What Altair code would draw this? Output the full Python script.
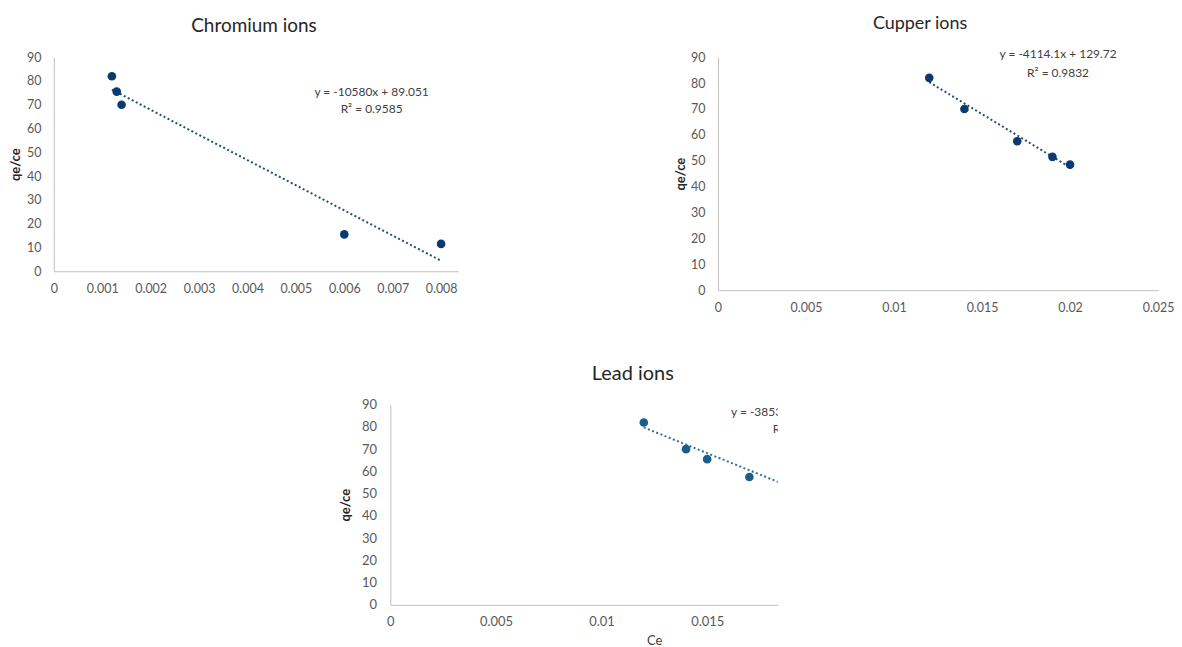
import altair as alt
import pandas as pd

# ---------------- data ----------------
cr_ce = [0.0012, 0.0013, 0.0014, 0.006, 0.008]
cr_q = [82, 75.5, 70, 15.5, 11.5]
cu_ce = [0.012, 0.014, 0.017, 0.019, 0.020]
cu_q = [82, 70, 57.5, 51.5, 48.5]
pb_ce = [0.012, 0.014, 0.015, 0.017]
pb_q = [82, 70, 65.5, 57.5]

# trend lines (from the equations shown on the chart)
cr_slope, cr_icpt = -10580, 89.051
cu_slope, cu_icpt = -4114.1, 129.72
pb_slope, pb_icpt = -3853, 126.0
cr_trend_x = [0.0012, 0.008]
cu_trend_x = [0.012, 0.020]
pb_trend_x = [0.012, 0.020]

cr_eq = ["y = -10580x + 89.051", "R² = 0.9585"]
cu_eq = ["y = -4114.1x + 129.72", "R² = 0.9832"]
pb_eq = ["y = -3853x + 126.0", "R² = 0.96"]

cr_eq_x = [0.006564, 0.006564]
cr_eq_y = [75.5, 68.0]
cu_eq_x = [0.01932, 0.01932]
cu_eq_y = [91.3, 83.8]
pb_eq_x = [0.01613, 0.01811]
pb_eq_y = [86.7, 79.2]

cr_xticks = [0, 0.001, 0.002, 0.003, 0.004, 0.005, 0.006, 0.007, 0.008]
cu_xticks = [0, 0.005, 0.01, 0.015, 0.02, 0.025]
pb_xticks = [0, 0.005, 0.01, 0.015]
yticks = [0, 10, 20, 30, 40, 50, 60, 70, 80, 90]

FONT = "Lato"
AXIS_GREY = "#bfbfbf"
LABEL_GREY = "#595959"


def panel(ce, q, slope, icpt, tx, eq, eqx, eqy, eq_align, xdom, xticks, w, h,
          title, title_dx, title_size, title_off, color, line_color, lab_size,
          ypad, ytitle_x, xtitle=None, clip=False):
    pts = pd.DataFrame({"Ce": ce, "q": q})
    trend = pd.DataFrame({"Ce": tx, "q": [slope * v + icpt for v in tx]})
    eqdf = pd.DataFrame({"Ce": eqx, "q": eqy, "t": eq})

    xax = alt.Axis(values=xticks, format="~g", grid=False, ticks=False, tickSize=0,
                   domainColor=AXIS_GREY, domainWidth=1, labelColor=LABEL_GREY,
                   labelFont=FONT, labelFontSize=lab_size, labelPadding=11,
                   labelFlush=False, labelOverlap=False,
                   title=xtitle if xtitle else "",
                   titleFont=FONT, titleFontSize=13, titleFontWeight="normal",
                   titleColor="#404040", titleBaseline="top", titleY=30,
                   titleX=265, titleAlign="center")
    yax = alt.Axis(values=yticks, grid=False, ticks=False, tickSize=0,
                   domainColor=AXIS_GREY, domainWidth=1, labelColor=LABEL_GREY,
                   labelFont=FONT, labelFontSize=lab_size, labelPadding=ypad,
                   labelFlush=False, labelOverlap=False,
                   title="qe/ce", titleFont=FONT, titleFontSize=13,
                   titleFontWeight="bold", titleColor="#262626",
                   titleX=ytitle_x, titleY=h / 2, titleAlign="center",
                   titleBaseline="middle")
    xs = alt.Scale(domain=xdom, nice=False, zero=False)
    ys = alt.Scale(domain=[0, 90], nice=False)
    X = alt.X("Ce:Q", scale=xs, axis=xax)
    Y = alt.Y("q:Q", scale=ys, axis=yax)

    line = alt.Chart(trend).mark_line(
        color=line_color, strokeWidth=2, strokeDash=[2, 2.5], clip=clip
    ).encode(x=X, y=Y)
    points = alt.Chart(pts).mark_point(
        filled=True, shape="circle", size=75, color=color, opacity=1, clip=clip
    ).encode(x=X, y=Y)
    text = alt.Chart(eqdf).mark_text(
        font=FONT, fontSize=12, color="#404040", align=eq_align, baseline="middle",
        clip=clip
    ).encode(x=X, y=Y, text="t:N")

    return alt.layer(line, points, text).properties(
        width=w, height=h,
        title=alt.TitleParams(title, font=FONT, fontSize=title_size,
                              fontWeight="normal", color="#262626",
                              anchor="middle", dx=title_dx, offset=title_off),
    )


chrom = panel(cr_ce, cr_q, cr_slope, cr_icpt, cr_trend_x, cr_eq, cr_eq_x, cr_eq_y,
              "center", [0, 0.00835], cr_xticks, 406, 215, "Chromium ions", -2, 19, 15,
              "#0b3a6e", "#1f4e79", 12.5, 13, -38)
cupper = panel(cu_ce, cu_q, cu_slope, cu_icpt, cu_trend_x, cu_eq, cu_eq_x, cu_eq_y,
               "center", [0, 0.025], cu_xticks, 442, 234, "Cupper ions", -18, 18, 15,
               "#0b3a6e", "#1f4e79", 12.5, 13, -38)
lead = panel(pb_ce, pb_q, pb_slope, pb_icpt, pb_trend_x, pb_eq, pb_eq_x, pb_eq_y,
             "left", [0, 0.01834], pb_xticks, 389, 201, "Lead ions", 49, 20, 15,
             "#1b5e8c", "#2e6e9e", 13, 14, -45, xtitle="Ce", clip=True)

spacer = alt.Chart(pd.DataFrame({"a": [0]})).mark_point(opacity=0).encode(
    x=alt.X("a:Q", axis=None), y=alt.Y("a:Q", axis=None)
).properties(width=330, height=10)

top_row = alt.hconcat(chrom, cupper, spacing=261, bounds="flush")
bottom_row = alt.hconcat(spacer, lead, spacing=8, bounds="flush")

chart = alt.vconcat(top_row, bottom_row, spacing=349, bounds="flush").properties(
    padding={"left": 2, "top": 5, "right": 0, "bottom": 0},
    background="white",
).configure_view(stroke="transparent", strokeWidth=0)

chart.save("out.html", embed_options={"renderer": "svg", "actions": False})
